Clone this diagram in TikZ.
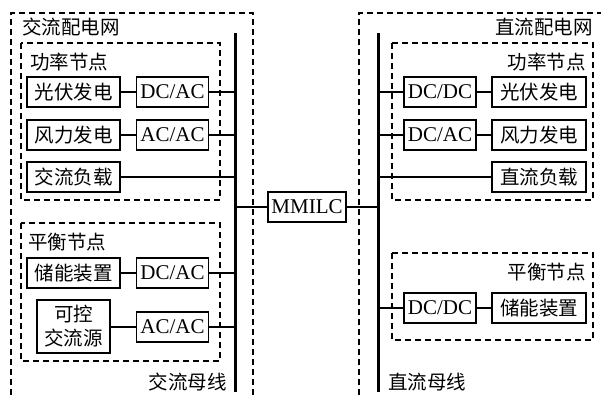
\documentclass[tikz,border=0pt]{standalone}
\usepackage{fontspec}
\setmainfont{Liberation Serif}
\newfontfamily\cjk{Noto Sans CJK SC}
\begin{document}
\begin{tikzpicture}[x=1pt,y=-1pt,
  every node/.style={font=\fontsize{21}{24}\selectfont},
  blk/.style={draw,line width=1.1pt,inner sep=0pt,minimum height=30pt,anchor=center},
  cv/.style={blk,minimum width=72pt},
  dv/.style={blk,minimum width=93pt,font=\fontsize{19.5}{23}\selectfont\cjk},
  lbl/.style={inner sep=0pt,font=\fontsize{19.5}{23}\selectfont\cjk},
  dsh/.style={line width=1.1pt,dash pattern=on 6pt off 4pt},
  bus/.style={line width=3pt},
  wire/.style={line width=1.1pt}]
\useasboundingbox (0,0) rectangle (601,397);
\clip (0,0) rectangle (601,397);
% dashed regions
\draw[dsh] (11,405) -- (11,13) -- (253,13) -- (253,405);
\draw[dsh] (359,405) -- (359,13) -- (612,13);
\draw[dsh] (21,43) rectangle (220,200);
\draw[dsh] (21,223) rectangle (220,361);
\draw[dsh] (392,43) rectangle (593,200);
\draw[dsh] (392,253) rectangle (593,340);
% labels
\node[lbl,anchor=west] (tl) at (22,27) {交流配电网};
\node[lbl,anchor=west] (tlp) at (30,62) {功率节点};
\node[lbl,anchor=west] (tlb) at (28,242) {平衡节点};
\node[lbl,anchor=east] (tlbus) at (227,382) {交流母线};
\node[lbl,anchor=east] (tr) at (593,27) {直流配电网};
\node[lbl,anchor=east] (trp) at (586,62) {功率节点};
\node[lbl,anchor=east] (trb) at (586,272) {平衡节点};
\node[lbl,anchor=west] (trbus) at (388,382) {直流母线};
% buses
\coordinate (lbt) at (235,33);
\coordinate (lbb) at (235,392);
\coordinate (rbt) at (378,33);
\coordinate (rbb) at (378,392);
\draw[bus] (lbt) -- (lbb);
\draw[bus] (rbt) -- (rbb);
% left blocks
\node[dv] (lpv) at (73.5,92) {光伏发电};
\node[cv] (ldcac1) at (172.5,92) {DC/AC};
\node[dv] (lwind) at (73.5,135) {风力发电};
\node[cv] (lacac1) at (172.5,135) {AC/AC};
\node[dv] (lload) at (73.5,177) {交流负载};
\node[dv] (lstor) at (73.5,273) {储能装置};
\node[cv] (ldcac2) at (172.5,273) {DC/AC};
\node[blk,minimum width=73pt,minimum height=53pt,align=center,font=\fontsize{19.5}{24}\selectfont\cjk] (lsrc) at (73.5,326.5) {可控\\交流源};
\node[cv] (lacac2) at (172.5,327) {AC/AC};
% right blocks
\node[cv] (rdcdc1) at (440,92) {DC/DC};
\node[dv,minimum width=94pt] (rpv) at (539,92) {光伏发电};
\node[cv] (rdcac) at (440,135) {DC/AC};
\node[dv,minimum width=94pt] (rwind) at (539,135) {风力发电};
\node[dv,minimum width=94pt] (rload) at (539,177) {直流负载};
\node[cv] (rdcdc2) at (440,308) {DC/DC};
\node[dv,minimum width=94pt] (rstor) at (539,308) {储能装置};
% MMILC
\node[blk,minimum width=78pt] (mm) at (307,207) {MMILC};
% wires left
\draw[wire] (lpv) -- (ldcac1);
\draw[wire] (lwind) -- (lacac1);
\draw[wire] (lstor) -- (ldcac2);
\draw[wire] (lsrc.east |- lacac2) -- (lacac2);
\draw[wire] (ldcac1.east) -- (ldcac1.east -| lbt);
\draw[wire] (lacac1.east) -- (lacac1.east -| lbt);
\draw[wire] (lload.east) -- (lload.east -| lbt);
\draw[wire] (ldcac2.east) -- (ldcac2.east -| lbt);
\draw[wire] (lacac2.east) -- (lacac2.east -| lbt);
% wires right
\draw[wire] (rdcdc1) -- (rpv);
\draw[wire] (rdcac) -- (rwind);
\draw[wire] (rdcdc2) -- (rstor);
\draw[wire] (rdcdc1.west) -- (rdcdc1.west -| rbt);
\draw[wire] (rdcac.west) -- (rdcac.west -| rbt);
\draw[wire] (rload.west) -- (rload.west -| rbt);
\draw[wire] (rdcdc2.west) -- (rdcdc2.west -| rbt);
% MMILC wires
\draw[wire] (mm.west) -- (mm.west -| lbt);
\draw[wire] (mm.east) -- (mm.east -| rbt);
\end{tikzpicture}
\end{document}
